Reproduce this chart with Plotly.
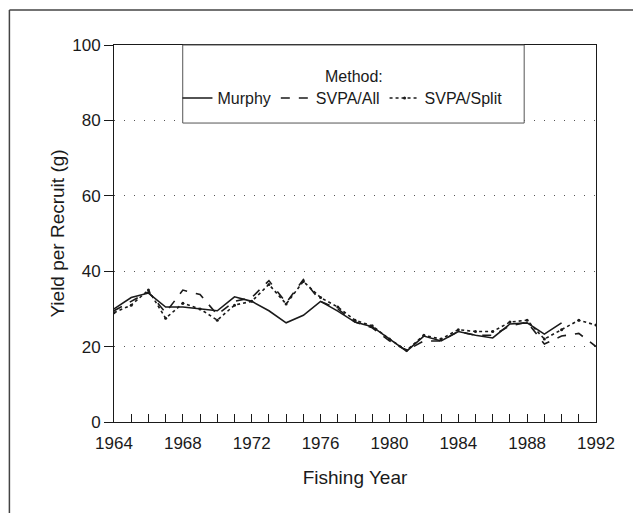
import plotly.graph_objects as go

# Fishing years and yield per recruit (g)
years = list(range(1964, 1993))

murphy = [30, 33, 34.2, 30.5, 30.5, 30, 29.5, 33.2, 32, 29.5, 26.3, 28.3, 32,
          29.4, 26.5, 25.3, 22, 18.8, 22.8, 21.5, 24, 23, 22.3, 26, 26.3, 23.3, 26.3,
          None, None]

svpa_all = [29.5, 32, 34.5, 29, 35, 33.8, 28.5, 32, 33, 37.5, 31.6, 37.8, 32,
            30, 26.5, 25, 21.5, 19, 21.5, 21.5, 24, 23, 23, 25.5, 26.5, 20.7, 22.8,
            23.5, 20]

svpa_split = [29, 31, 35, 27.5, 31.5, 30, 27, 31, 32, 36.5, 31.3, 37.3, 33,
              30.5, 27, 25.5, 22, 19, 23, 22, 24.5, 24, 24, 26.5, 27, 22, 24.5,
              27, 25.7]

x_ticks = [1964, 1968, 1972, 1976, 1980, 1984, 1988, 1992]
y_ticks = [0, 20, 40, 60, 80, 100]

INK = "#1a1a1a"
FONT = "Liberation Sans, Arial, sans-serif"


def main():
    fig = go.Figure()
    fig.add_trace(go.Scatter(x=years, y=murphy, mode="lines", name="Murphy",
                             line=dict(color=INK, width=1.6)))
    fig.add_trace(go.Scatter(x=years, y=svpa_all, mode="lines", name="SVPA/All",
                             line=dict(color=INK, width=1.6, dash="dash")))
    fig.add_trace(go.Scatter(x=years, y=svpa_split, mode="lines+markers", name="SVPA/Split",
                             line=dict(color=INK, width=1.6, dash="dot"),
                             marker=dict(size=3, color=INK)))

    fig.update_layout(
        width=641,
        height=513,
        margin=dict(l=106, r=53, t=37, b=99),
        paper_bgcolor="white",
        plot_bgcolor="white",
        font=dict(family=FONT, size=16, color=INK),
        showlegend=True,
        legend=dict(
            orientation="h",
            x=0.474, y=0.859, xanchor="center", yanchor="middle",
            bgcolor="rgba(0,0,0,0)", borderwidth=0,
            font=dict(size=16),
            itemwidth=30,
        ),
        xaxis=dict(
            range=[1964, 1992],
            tickvals=x_ticks,
            ticks="inside", ticklen=8, tickcolor=INK,
            minor=dict(dtick=1, ticks="inside", ticklen=8, tickcolor=INK),
            ticklabelstandoff=6,
            tickfont=dict(size=17),
            showgrid=False, zeroline=False,
            showline=True, linecolor=INK, mirror=True,
            title=dict(text="Fishing Year", standoff=18),
        ),
        yaxis=dict(
            range=[0, 100],
            tickvals=y_ticks,
            ticks="outside", ticklen=9, tickcolor=INK,
            tickfont=dict(size=17),
            showgrid=True, gridcolor="#555", griddash="1px,9px", gridwidth=1.2,
            zeroline=False,
            showline=True, linecolor=INK, mirror=True,
            title=dict(text="Yield per Recruit (g)", standoff=2),
        ),
    )

    # legend frame and title
    fig.add_shape(type="rect", xref="paper", yref="paper",
                  x0=0.1426, x1=0.851, y0=0.793, y1=1.0,
                  fillcolor="white", line=dict(color="#555", width=1), layer="above")
    fig.add_annotation(text="Method:", xref="paper", yref="paper",
                       x=0.497, y=0.944, showarrow=False,
                       font=dict(size=16, color=INK))

    # outer page frame of the scanned figure
    fig.add_shape(type="line", xref="paper", yref="paper",
                  x0=-0.217, x1=-0.217, y0=1.093, y1=-0.25,
                  line=dict(color="#444", width=1.5))
    fig.add_shape(type="line", xref="paper", yref="paper",
                  x0=-0.217, x1=1.2, y0=1.093, y1=1.093,
                  line=dict(color="#444", width=1.5))

    fig.write_html("out.html")


if __name__ == "__main__":
    main()
